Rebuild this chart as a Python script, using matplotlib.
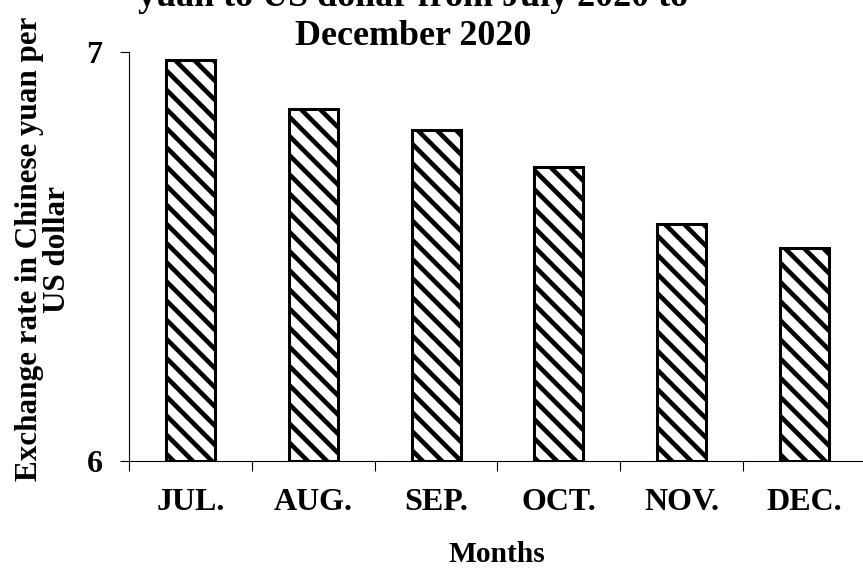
import numpy as np
import matplotlib
matplotlib.use("Agg")
import matplotlib.pyplot as plt

months = ["JUL.", "AUG.", "SEP.", "OCT.", "NOV.", "DEC."]
rates = [6.98, 6.86, 6.81, 6.72, 6.58, 6.52]
y_ticks = [6, 7]
title_lines = ["yuan to US dollar from July 2020 to", "December 2020"]
ylabel_lines = ["Exchange rate in Chinese yuan per", "US dollar"]

DPI = 115
W, H = 863, 573
plt.rcParams['font.family'] = ['Liberation Serif', 'DejaVu Serif']
plt.rcParams['font.weight'] = 'bold'
plt.rcParams['hatch.linewidth'] = 2.9
plt.rcParams['hatch.color'] = 'black'

fig = plt.figure(figsize=(W / DPI, H / DPI), dpi=DPI)
ax = fig.add_axes([129 / W, 1 - 461 / H, (866 - 129) / W, (461 - 52) / H])

x = np.arange(len(months))
base = y_ticks[0]
ax.bar(x, np.array(rates) - base, bottom=base, width=0.4, color='white',
       edgecolor='black', linewidth=1.9, hatch='\\\\')

ax.set_xlim(-0.5, len(months) - 0.5)
ax.set_ylim(y_ticks[0], y_ticks[-1])
ax.set_yticks(y_ticks)
ax.set_yticklabels([str(v) for v in y_ticks], fontsize=20, fontweight='bold')
ax.set_xticks(x)
ax.set_xticklabels(months, fontsize=20, fontweight='bold', va='baseline')
ax.set_xticks(np.arange(len(months) + 1) - 0.5, minor=True)
ax.tick_params(axis='x', which='major', length=0, pad=30.5)
ax.tick_params(axis='x', which='minor', length=6.3, width=0.7, direction='out')
ax.tick_params(axis='y', length=5.6, width=0.7, direction='out', pad=11)
for s in ['top', 'right']:
    ax.spines[s].set_visible(False)
for s in ['left', 'bottom']:
    ax.spines[s].set_linewidth(0.7)
ax.spines['bottom'].set_clip_on(False)

# title, two lines (upper part runs off the top like in the source)
fig.text(413 / W, 1 - 6 / H, title_lines[0], ha='center', va='baseline',
         fontsize=22.5, fontweight='bold')
fig.text(413 / W, 1 - 45 / H, title_lines[1], ha='center', va='baseline',
         fontsize=22.5, fontweight='bold')

# y label, two rotated lines
fig.text(37 / W, 1 - 249 / H, ylabel_lines[0], rotation=90, rotation_mode='anchor',
         ha='center', va='baseline', fontsize=19.5, fontweight='bold')
fig.text(65 / W, 1 - 249 / H, ylabel_lines[1], rotation=90, rotation_mode='anchor',
         ha='center', va='baseline', fontsize=19.5, fontweight='bold')

fig.text(497 / W, 1 - 562 / H, "Months", ha='center', va='baseline',
         fontsize=18.5, fontweight='bold')

fig.savefig("out.png", dpi=DPI)
